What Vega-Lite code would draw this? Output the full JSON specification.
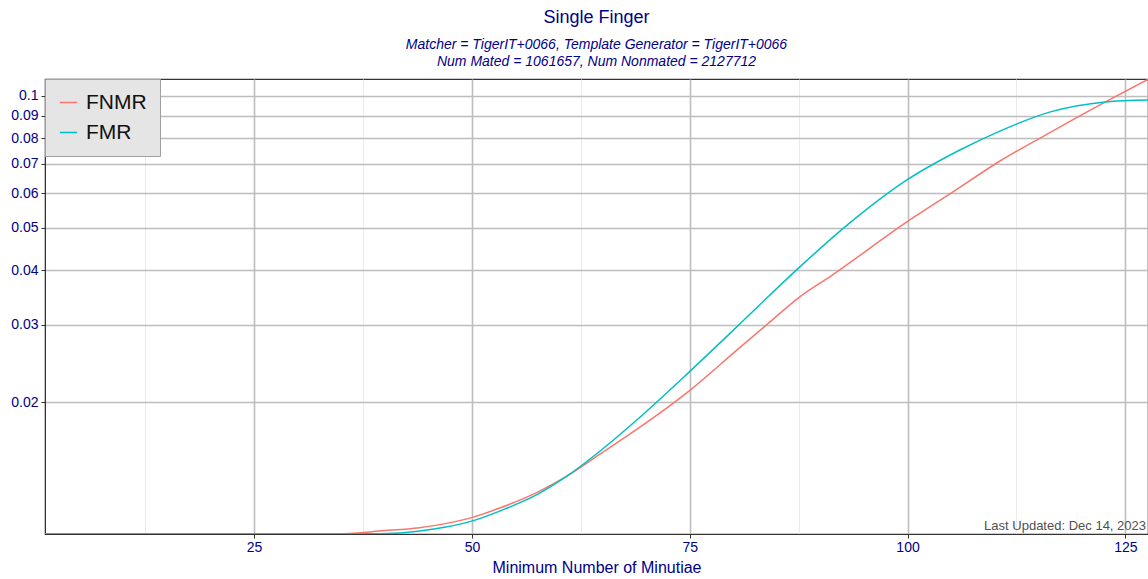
{
  "$schema": "https://vega.github.io/schema/vega-lite/v6.json",
  "width": 1148,
  "height": 579,
  "autosize": {"type": "fit", "contains": "padding"},
  "padding": {"left": 10, "right": 0, "top": 9, "bottom": 4},
  "background": "white",
  "config": {
    "font": "Liberation Sans",
    "view": {"stroke": "#333333", "strokeWidth": 1.2},
    "axis": {"labelColor": "#00008B", "titleColor": "#00008B", "labelFont": "Liberation Sans", "titleFont": "Liberation Sans", "labelFontSize": 14, "titleFontSize": 16, "titleFontWeight": "normal", "domainColor": "#333333", "tickColor": "#333333", "tickSize": 4}
  },
  "title": {
    "text": "Single Finger",
    "subtitle": ["Matcher = TigerIT+0066, Template Generator = TigerIT+0066", "Num Mated = 1061657, Num Nonmated = 2127712"],
    "anchor": "middle",
    "frame": "group",
    "color": "#00008B",
    "fontSize": 18,
    "fontWeight": "normal",
    "font": "Liberation Sans",
    "subtitleColor": "#00008B",
    "subtitleFontSize": 14,
    "subtitleFontStyle": "italic",
    "subtitleFont": "Liberation Sans",
    "subtitlePadding": 11,
    "subtitleLineHeight": 17,
    "offset": 10
  },
  "datasets": {
    "curves": [
      {"m": 1, "v": 0.01, "s": "FNMR"},
      {"m": 33, "v": 0.01, "s": "FNMR"},
      {"m": 36, "v": 0.01003, "s": "FNMR"},
      {"m": 39.39, "v": 0.01016, "s": "FNMR"},
      {"m": 43.99, "v": 0.01034, "s": "FNMR"},
      {"m": 46.98, "v": 0.01056, "s": "FNMR"},
      {"m": 49.97, "v": 0.0109, "s": "FNMR"},
      {"m": 53.18, "v": 0.01146, "s": "FNMR"},
      {"m": 57.78, "v": 0.01253, "s": "FNMR"},
      {"m": 60.9, "v": 0.01355, "s": "FNMR"},
      {"m": 64.68, "v": 0.01521, "s": "FNMR"},
      {"m": 69.28, "v": 0.01753, "s": "FNMR"},
      {"m": 75.02, "v": 0.02128, "s": "FNMR"},
      {"m": 80.77, "v": 0.02667, "s": "FNMR"},
      {"m": 83.87, "v": 0.03008, "s": "FNMR"},
      {"m": 87.67, "v": 0.03484, "s": "FNMR"},
      {"m": 91.11, "v": 0.0387, "s": "FNMR"},
      {"m": 99.97, "v": 0.05164, "s": "FNMR"},
      {"m": 104.9, "v": 0.0598, "s": "FNMR"},
      {"m": 110.66, "v": 0.07112, "s": "FNMR"},
      {"m": 116.4, "v": 0.08259, "s": "FNMR"},
      {"m": 122.72, "v": 0.0969, "s": "FNMR"},
      {"m": 127.67, "v": 0.1093, "s": "FNMR"},
      {"m": 1, "v": 0.01, "s": "FMR"},
      {"m": 35, "v": 0.01, "s": "FMR"},
      {"m": 38.5, "v": 0.01001, "s": "FMR"},
      {"m": 41.69, "v": 0.010053, "s": "FMR"},
      {"m": 43.99, "v": 0.01016, "s": "FMR"},
      {"m": 46.98, "v": 0.01037, "s": "FMR"},
      {"m": 49.97, "v": 0.0107, "s": "FMR"},
      {"m": 53.18, "v": 0.01128, "s": "FMR"},
      {"m": 57.78, "v": 0.0124, "s": "FMR"},
      {"m": 60.89, "v": 0.01355, "s": "FMR"},
      {"m": 64.68, "v": 0.01545, "s": "FMR"},
      {"m": 69.28, "v": 0.01847, "s": "FMR"},
      {"m": 75.02, "v": 0.02351, "s": "FMR"},
      {"m": 79.62, "v": 0.0287, "s": "FMR"},
      {"m": 83.07, "v": 0.03341, "s": "FMR"},
      {"m": 87.67, "v": 0.04077, "s": "FMR"},
      {"m": 93.41, "v": 0.05136, "s": "FMR"},
      {"m": 99.97, "v": 0.06437, "s": "FMR"},
      {"m": 106.06, "v": 0.07534, "s": "FMR"},
      {"m": 110.66, "v": 0.08324, "s": "FMR"},
      {"m": 116.4, "v": 0.09196, "s": "FMR"},
      {"m": 122.72, "v": 0.0969, "s": "FMR"},
      {"m": 127.67, "v": 0.09792, "s": "FMR"}
    ],
    "note": [{"text": "Last Updated: Dec 14, 2023", "m": 127.6, "v": 0.01}]
  },
  "layer": [
    {
      "data": {"name": "curves"},
      "mark": {"type": "line", "strokeWidth": 1.5, "clip": true, "interpolate": "monotone"},
      "encoding": {
        "x": {
          "field": "m", "type": "quantitative",
          "scale": {"domain": [1, 127.6], "nice": false, "zero": false},
          "axis": {
            "title": "Minimum Number of Minutiae",
            "titlePadding": 5,
            "values": [12.5, 25, 37.5, 50, 62.5, 75, 87.5, 100, 112.5, 125],
            "labelExpr": "datum.value % 25 === 0 ? datum.label : ''",
            "tickOpacity": {"condition": {"test": "datum.value % 25 === 0", "value": 1}, "value": 0},
            "gridColor": {"condition": {"test": "datum.value % 25 === 0", "value": "#bdbdbd"}, "value": "#ebebeb"},
            "gridWidth": {"condition": {"test": "datum.value % 25 === 0", "value": 1.6}, "value": 1},
            "grid": true
          }
        },
        "y": {
          "field": "v", "type": "quantitative",
          "scale": {"type": "log", "domain": [0.01, 0.1093], "nice": false},
          "axis": {
            "title": null,
            "values": [0.02, 0.03, 0.04, 0.05, 0.06, 0.07, 0.08, 0.09, 0.1],
            "format": ".2~f",
            "grid": true,
            "gridColor": "#bdbdbd",
            "gridWidth": 1.6,
            "labelPadding": 3
          }
        },
        "color": {
          "field": "s", "type": "nominal",
          "scale": {"domain": ["FNMR", "FMR"], "range": ["#F8766D", "#00BFC4"]},
          "legend": {
            "title": null,
            "orient": "top-left",
            "offset": 0,
            "fillColor": "#e5e5e5",
            "strokeColor": "#a0a0a0",
            "padding": 13,
            "labelFontSize": 21,
            "labelColor": "#111111",
            "labelFont": "Liberation Sans",
            "symbolType": "stroke",
            "symbolSize": 300,
            "symbolStrokeWidth": 1.5,
            "rowPadding": 8,
            "labelOffset": 7
          }
        }
      }
    },
    {
      "data": {"name": "note"},
      "mark": {"type": "text", "align": "right", "baseline": "bottom", "dy": -1, "dx": -2, "fontSize": 13, "color": "#505050", "font": "Liberation Sans"},
      "encoding": {
        "x": {"field": "m", "type": "quantitative"},
        "y": {"field": "v", "type": "quantitative"},
        "text": {"field": "text"}
      }
    }
  ]
}
